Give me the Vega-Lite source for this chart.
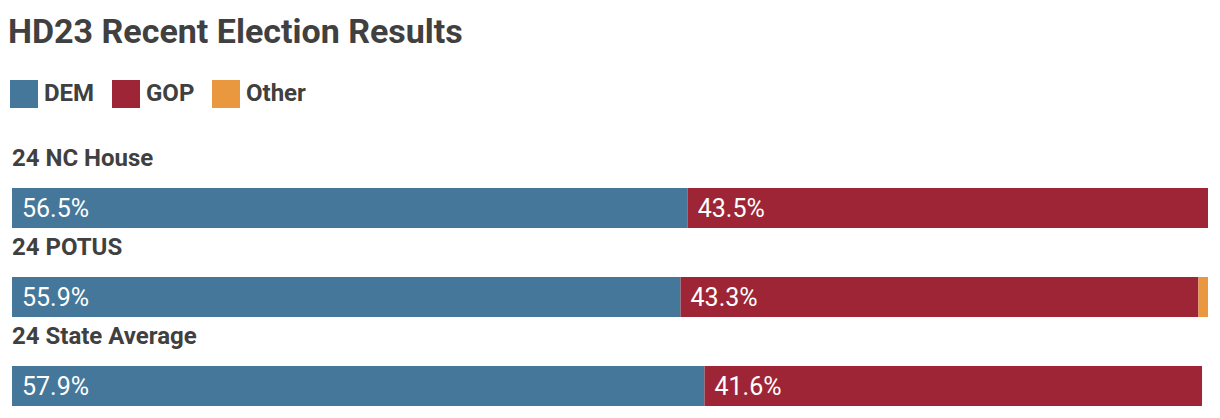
{
  "$schema": "https://vega.github.io/schema/vega-lite/v6.json",
  "width": 1196,
  "height": 218,
  "autosize": {"type": "none"},
  "padding": {"left": 12, "right": 12, "top": 188, "bottom": 12},
  "background": "white",
  "title": {
    "text": "HD23 Recent Election Results",
    "anchor": "start",
    "font": "Roboto",
    "fontSize": 34,
    "fontWeight": "bold",
    "color": "#404040",
    "offset": 30,
    "dx": -2
  },
  "config": {"view": {"stroke": null}},
  "data": {
    "values": [
      {"race": "24 NC House", "party": "DEM", "pct": 56.5},
      {"race": "24 NC House", "party": "GOP", "pct": 43.5},
      {"race": "24 POTUS", "party": "DEM", "pct": 55.9},
      {"race": "24 POTUS", "party": "GOP", "pct": 43.3},
      {"race": "24 POTUS", "party": "Other", "pct": 0.8},
      {"race": "24 State Average", "party": "DEM", "pct": 57.9},
      {"race": "24 State Average", "party": "GOP", "pct": 41.6}
    ]
  },
  "encoding": {
    "y": {
      "field": "race",
      "type": "nominal",
      "sort": ["24 NC House", "24 POTUS", "24 State Average"],
      "scale": {"paddingInner": 0.5506, "paddingOuter": 0},
      "axis": null
    }
  },
  "layer": [
    {
      "mark": {"type": "bar"},
      "encoding": {
        "x": {"field": "pct", "type": "quantitative", "stack": "zero", "scale": {"domain": [0, 100]}, "axis": null},
        "color": {
          "field": "party",
          "type": "nominal",
          "scale": {"domain": ["DEM", "GOP", "Other"], "range": ["#44779a", "#9e2535", "#e9983f"]},
          "legend": {
            "title": null,
            "orient": "none",
            "direction": "horizontal",
            "legendX": -2,
            "legendY": -108,
            "symbolType": "square",
            "symbolSize": 784,
            "symbolStrokeWidth": 0,
            "symbolOpacity": 1,
            "labelFont": "Roboto",
            "labelFontSize": 24,
            "labelFontWeight": "bold",
            "labelColor": "#404040",
            "labelOffset": 6,
            "columnPadding": 17
          }
        },
        "order": {"field": "party", "sort": "ascending"}
      }
    },
    {
      "transform": [
        {"stack": "pct", "groupby": ["race"], "sort": [{"field": "party", "order": "ascending"}], "as": ["x0", "x1"]},
        {"filter": "datum.pct > 5"},
        {"calculate": "format(datum.pct, '.1f') + '%'", "as": "label"}
      ],
      "mark": {"type": "text", "align": "left", "baseline": "middle", "dx": 10, "dy": 1, "font": "Roboto", "fontSize": 25, "color": "white"},
      "encoding": {
        "x": {"field": "x0", "type": "quantitative"},
        "text": {"field": "label"}
      }
    },
    {
      "transform": [{"filter": "datum.party == 'DEM'"}],
      "mark": {"type": "text", "align": "left", "baseline": "middle", "dy": -49, "font": "Roboto", "fontSize": 24, "fontWeight": "bold", "color": "#404040"},
      "encoding": {
        "x": {"value": 0},
        "text": {"field": "race"}
      }
    }
  ]
}
